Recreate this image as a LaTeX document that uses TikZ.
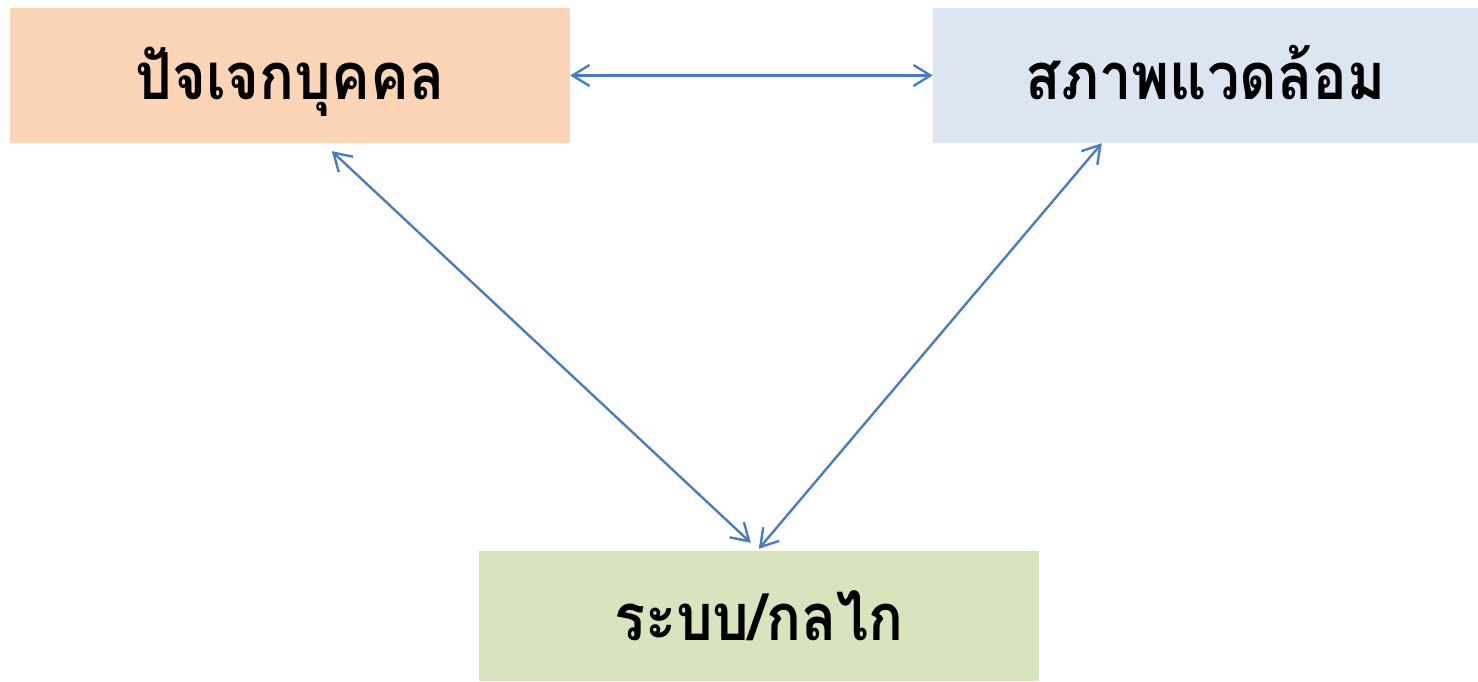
\documentclass[tikz,border=0pt]{standalone}
\usepackage{fontspec}
\newfontfamily\thaifont[Script=Thai]{Loma}
\usetikzlibrary{arrows.meta,calc}
\definecolor{boxorange}{HTML}{FBD5B5}
\definecolor{boxblue}{HTML}{DCE6F2}
\definecolor{boxgreen}{HTML}{D7E4BD}
\definecolor{linkblue}{HTML}{4A7EBB}
\newcommand{\boxtext}[1]{\scalebox{0.89}[1]{#1}}
\begin{document}
\begin{tikzpicture}[x=1pt,y=-1pt,
  box/.style={draw=none,inner sep=0pt,minimum height=#1,text height=60pt,text depth=12pt,font=\thaifont\bfseries\fontsize{65}{72}\selectfont,text=black},
  link/.style={draw=linkblue,line width=2.4pt,{Straight Barb[length=17pt,width=21pt,line width=2.4pt]}-{Straight Barb[length=17pt,width=21pt,line width=2.4pt]}}]
\useasboundingbox (0,0) rectangle (1478,681);
\node[box=135pt,fill=boxorange,minimum width=560pt] (b1) at (290,75.5) {\boxtext{ปัจเจกบุคคล}};
\node[box=135pt,fill=boxblue,minimum width=545pt] (b2) at (1205.5,75.5) {\boxtext{สภาพแวดล้อม}};
\node[box=130pt,fill=boxgreen,minimum width=560pt] (b3) at (759,616) {\boxtext{ระบบ/กลไก}};
\coordinate (p1) at ($(b1.south west)+(322,8)$);
\coordinate (p2) at ($(b3.north west)+(272,-8)$);
\coordinate (p3) at ($(b2.south west)+(169,0)$);
\coordinate (p4) at ($(b3.north west)+(280,-2)$);
\draw[link] (b1.east) -- (b2.west);
\draw[link] (p1) -- (p2);
\draw[link] (p3) -- (p4);
\end{tikzpicture}
\end{document}
